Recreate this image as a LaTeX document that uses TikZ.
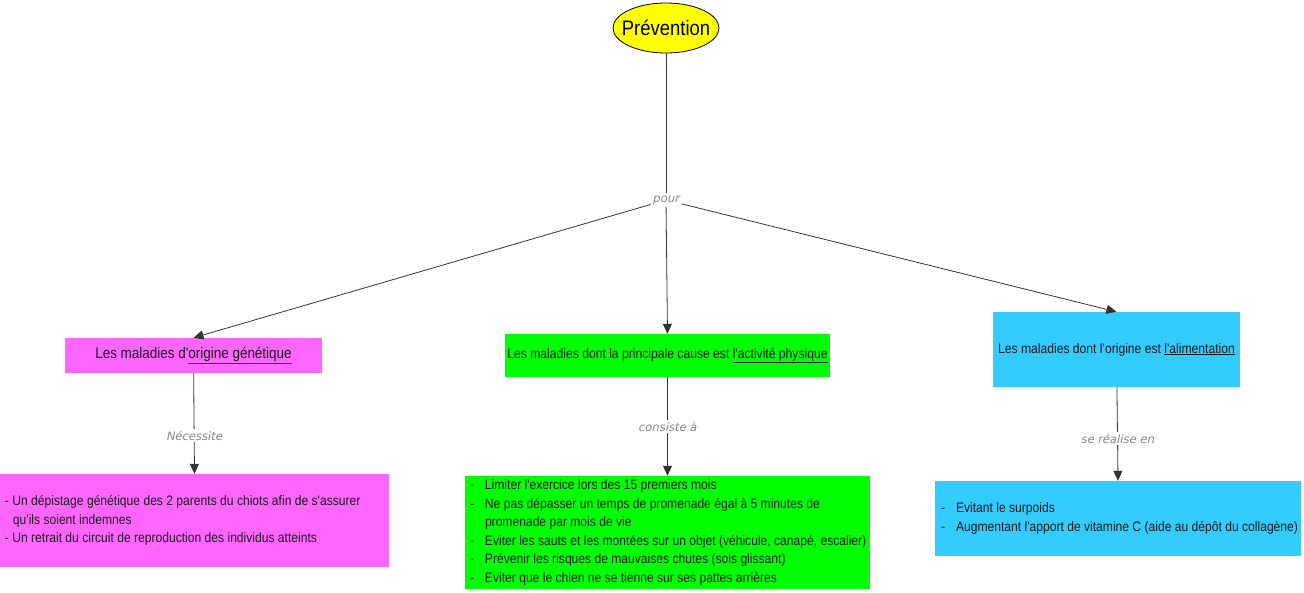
\documentclass[tikz,border=0pt]{standalone}
\usepackage{fontspec}
\setmainfont{Liberation Sans}[FakeStretch=0.88,Ligatures=TeXOff]
\newfontfamily\lblfont{DejaVu Sans}[FakeSlant=0.2]
\usetikzlibrary{shapes.geometric,arrows.meta}
\definecolor{pinkc}{HTML}{FF66FF}
\definecolor{greenc}{HTML}{00FF00}
\definecolor{bluec}{HTML}{33CCFF}
\definecolor{yellowc}{HTML}{FFFF00}
\definecolor{linec}{HTML}{333333}
\definecolor{lblc}{HTML}{888888}
\newcommand\itm[1]{\makebox[15pt][l]{-}#1}
\begin{document}
\begin{tikzpicture}[x=1pt,y=-1pt,
  box/.style={inner sep=0pt,font=\fontsize{13.75}{18.5}\selectfont,text=black!90},
  head/.style={box,font=\fontsize{13.8}{18.5}\selectfont},
  listtxt/.style={box,anchor=west,align=left},
  lbl/.style={font=\lblfont\fontsize{11.6}{13}\selectfont,text=lblc,fill=white,inner sep=2pt},
  conn/.style={draw=linec,line width=0.8pt},
  arr/.style={conn,-{Triangle[length=10pt,width=9pt]}}]
\useasboundingbox (0,0) rectangle (1304,592);
\node[ellipse,draw=black,line width=0.8pt,fill=yellowc,minimum width=106pt,minimum height=50pt,inner sep=0pt] (prev) at (666,28) {};
\node[font=\fontsize{21}{24}\selectfont,inner sep=0pt] (prevtxt) at (prev.center) {Prévention};
\node[lbl] (pour) at (666,200) {pour};
\node[head,font=\fontsize{15.3}{18.5}\selectfont,fill=pinkc,minimum width=257pt,minimum height=35pt] (gen) at (193.5,355.5) {Les maladies d'\underline{origine génétique}};
\node[head,fill=greenc,minimum width=325pt,minimum height=43pt] (phys) at (667.5,355.5) {Les maladies dont la principale cause est \underline{l'activité physique}};
\node[head,fill=bluec,minimum width=247pt,minimum height=75pt] (alim) at (1116.5,349.5) {Les maladies dont l'origine est \underline{l'alimentation}};
\node[box,fill=pinkc,minimum width=389pt,minimum height=93pt] (gen2) at (194.5,520.5) {};
\node[listtxt] (gen2txt) at ([xshift=5pt]gen2.west) {- Un dépistage génétique des 2 parents du chiots afin de s'assurer\\\hspace*{8pt}qu'ils soient indemnes\\- Un retrait du circuit de reproduction des individus atteints};
\node[box,fill=greenc,minimum width=405pt,minimum height=113pt] (phys2) at (667.5,532.5) {};
\node[listtxt] (phys2txt) at ([xshift=5pt]phys2.west) {\itm{Limiter l'exercice lors des 15 premiers mois}\\\itm{Ne pas dépasser un temps de promenade égal à 5 minutes de}\\\hspace*{15pt}promenade par mois de vie\\\itm{Eviter les sauts et les montées sur un objet (véhicule, canapé, escalier)}\\\itm{Prévenir les risques de mauvaises chutes (sols glissant)}\\\itm{Eviter que le chien ne se tienne sur ses pattes arrières}};
\node[box,fill=bluec,minimum width=366pt,minimum height=75pt] (alim2) at (1118,518.5) {};
\node[listtxt] (alim2txt) at ([xshift=6pt]alim2.west) {\itm{Evitant le surpoids}\\\itm{Augmentant l'apport de vitamine C (aide au dépôt du collagène)}};
\draw[conn] (prev) -- (pour);
\draw[arr] (pour) -- (gen.north);
\draw[arr] (pour) -- (phys.north);
\draw[arr] (pour) -- (alim.north);
\draw[arr] (gen) -- node[lbl,pos=0.62] {Nécessite} (gen2.north);
\draw[arr] (phys) -- node[lbl,pos=0.5] {consiste à} (phys2.north);
\draw[arr] (alim) -- node[lbl,pos=0.55] {se réalise en} (alim2.north);
\end{tikzpicture}
\end{document}
